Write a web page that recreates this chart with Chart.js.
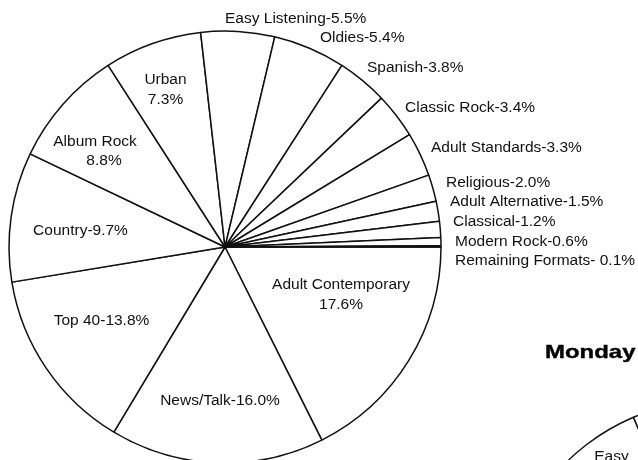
<!DOCTYPE html>
<html>
<head>
<meta charset="utf-8">
<script src="https://cdn.jsdelivr.net/npm/chart.js@4/dist/chart.umd.min.js"></script>
<style>
  html, body { margin: 0; padding: 0; background: #fff; }
  #wrap { position: relative; width: 638px; height: 460px; overflow: hidden; background: #fff; }
  #shares { position: absolute; left: 0; top: 0; }
  #monday { position: absolute; left: 502px; top: 400px; }
  #mondayTitle {
    position: absolute; left: 545px; top: 342px; white-space: nowrap;
    font: bold 19px/19px "Liberation Sans", Arial, sans-serif; color: #000;
    transform: scaleX(1.26); transform-origin: 0 0;
    -webkit-text-stroke: 0.4px #000;
  }
</style>
</head>
<body>
<div id="wrap">
  <canvas id="shares" width="638" height="460"></canvas>
  <div id="mondayTitle">Monday</div>
  <canvas id="monday" width="432" height="432"></canvas>
</div>
<script>
// Format shares, listed clockwise starting at 3 o'clock
const formats = [
  'Adult Contemporary', 'News/Talk', 'Top 40', 'Country', 'Album Rock', 'Urban',
  'Easy Listening', 'Oldies', 'Spanish', 'Classic Rock', 'Adult Standards',
  'Religious', 'Adult Alternative', 'Classical', 'Modern Rock', 'Remaining Formats'
];
const shares = [17.6, 16.0, 13.8, 9.7, 8.8, 7.3, 5.5, 5.4, 3.8, 3.4, 3.3, 2.0, 1.5, 1.2, 0.6, 0.1];

// Monday pie (only its upper-left edge is in view)
const mondayFormats = ['Other formats', 'Easy Listening', 'Remaining formats'];
const mondayShares = [60.6, 8.0, 31.4];

// Label placement relative to the pie centre
const labelLayout = [
  { dx: 116, dy: 38, align: 'center', kind: 'stack', gap: 20 },
  { dx: -5, dy: 154, align: 'center', kind: 'dash' },
  { dx: -123.5, dy: 74, align: 'center', kind: 'dash' },
  { dx: -144.5, dy: -16, align: 'center', kind: 'dash' },
  { dx: -130, dy: -105, align: 'center', kind: 'stack', gap: 19, dx2: -121 },
  { dx: -59.5, dy: -167, align: 'center', kind: 'stack', gap: 20 },
  { dx: 0, dy: -228, align: 'left', kind: 'dash' },
  { dx: 95, dy: -209, align: 'left', kind: 'dash' },
  { dx: 142, dy: -179, align: 'left', kind: 'dash' },
  { dx: 180, dy: -139, align: 'left', kind: 'dash' },
  { dx: 206, dy: -99, align: 'left', kind: 'dash' },
  { dx: 221, dy: -64, align: 'left', kind: 'dash' },
  { dx: 225, dy: -45, align: 'left', kind: 'dash' },
  { dx: 228, dy: -25, align: 'left', kind: 'dash' },
  { dx: 230, dy: -5, align: 'left', kind: 'dash' },
  { dx: 230, dy: 14, align: 'left', kind: 'dashSpace' }
];

const LABEL_FONT = '15.5px "Liberation Sans", Arial, sans-serif';

const sliceLabels = {
  id: 'sliceLabels',
  afterDatasetsDraw(chart, args, opts) {
    const meta = chart.getDatasetMeta(0);
    const arc = meta.data[0];
    const cx = arc.x, cy = arc.y;
    const ctx = chart.ctx;
    const labels = chart.data.labels;
    const values = chart.data.datasets[0].data;
    ctx.save();
    ctx.fillStyle = '#111';
    ctx.font = LABEL_FONT;
    ctx.textBaseline = 'middle';
    (opts.items || []).forEach((item, i) => {
      if (!item) return;
      const name = item.text || labels[i];
      const pct = values[i].toFixed(1) + '%';
      ctx.textAlign = item.align;
      if (item.kind === 'stack') {
        ctx.fillText(name, cx + item.dx, cy + item.dy);
        ctx.fillText(pct, cx + (item.dx2 !== undefined ? item.dx2 : item.dx), cy + item.dy + item.gap);
      } else if (item.kind === 'name') {
        ctx.fillText(name, cx + item.dx, cy + item.dy);
      } else {
        const sep = item.kind === 'dashSpace' ? '- ' : '-';
        ctx.fillText(name + sep + pct, cx + item.dx, cy + item.dy);
      }
    });
    ctx.restore();
  }
};

const sliceStyle = {
  backgroundColor: '#ffffff',
  borderColor: '#111111',
  borderWidth: 1.5
};

new Chart(document.getElementById('shares'), {
  type: 'pie',
  data: {
    labels: formats,
    datasets: [Object.assign({ data: shares }, sliceStyle)]
  },
  options: {
    responsive: false,
    animation: false,
    events: [],
    rotation: 90,
    radius: 216,
    layout: { padding: { left: 9, top: 34, right: 197, bottom: 0 } },
    plugins: {
      legend: { display: false },
      tooltip: { enabled: false },
      sliceLabels: { items: labelLayout }
    }
  },
  plugins: [sliceLabels]
});

new Chart(document.getElementById('monday'), {
  type: 'pie',
  data: {
    labels: mondayFormats,
    datasets: [Object.assign({ data: mondayShares }, sliceStyle)]
  },
  options: {
    responsive: false,
    animation: false,
    events: [],
    rotation: 90,
    radius: 216,
    layout: { padding: 0 },
    plugins: {
      legend: { display: false },
      tooltip: { enabled: false },
      sliceLabels: { items: [null, { dx: -106.5, dy: -159.5, align: 'center', kind: 'name', text: 'Easy' }, null] }
    }
  },
  plugins: [sliceLabels]
});
</script>
</body>
</html>
